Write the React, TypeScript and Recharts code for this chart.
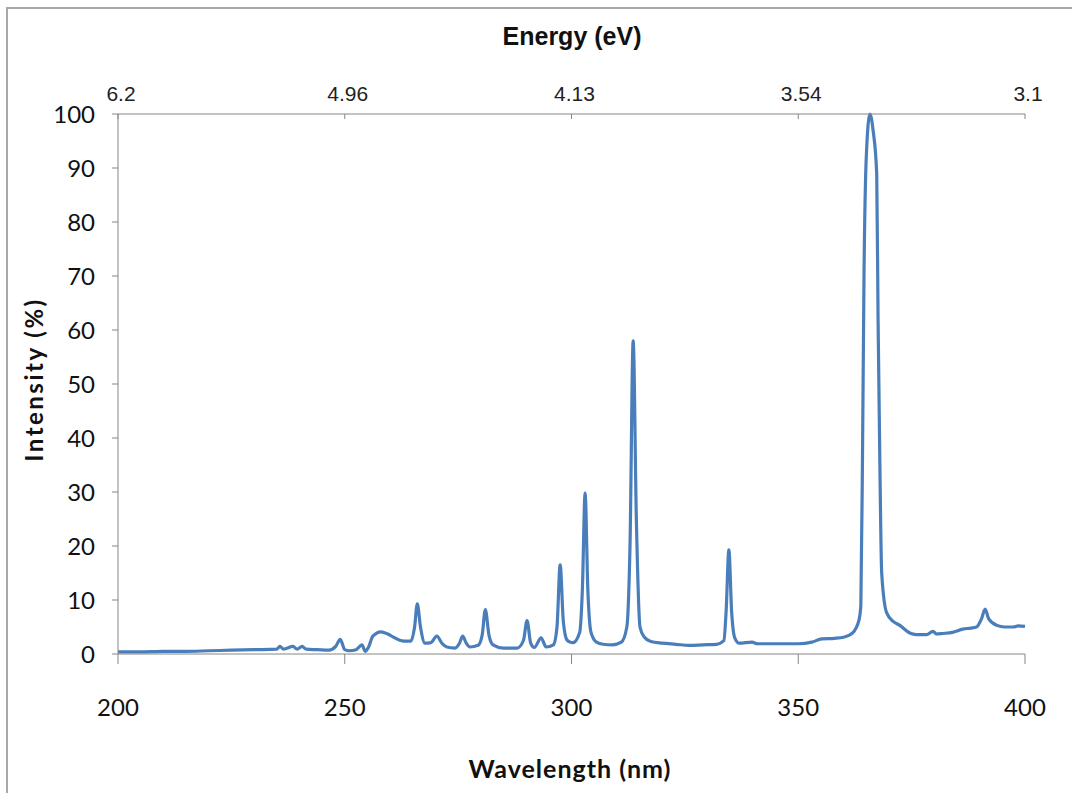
import { Line, LineChart, XAxis, YAxis } from "recharts";

// spectrum (nm, % of max)
const wavelengths = [
  200, 205, 210, 215, 220, 225, 230, 235, 235.7, 236.5, 238.6, 239.5, 240.6, 241.5, 244, 246.5,
  248, 249, 250, 251, 252.5, 253.8, 254.5, 255.2, 256.2, 258, 259.5, 261, 263, 264.6, 265.4, 266,
  266.7, 267.7, 269, 270.3, 271.5, 272.5, 274.3, 275.3, 276, 276.8, 277.6, 279.4, 280.3, 281,
  281.8, 282.7, 285, 288, 289.4, 290.2, 291, 291.8, 293.3, 294.4, 296, 296.8, 297.5, 298.2, 299,
  299.7, 300.3, 301.8, 302.4, 303, 303.6, 304.3, 305.5, 307, 309, 311, 312.2, 312.9, 313.6, 314.3,
  315.1, 316, 317.5, 320, 323, 326, 329, 332, 333.6, 334.1, 334.7, 335.3, 336, 337, 339.8, 341,
  345, 350, 353, 355.2, 358, 360, 362, 363.4, 363.8, 364.2, 364.5, 365, 365.8, 366.5, 367.3,
  367.6, 368, 368.4, 369.5, 371, 372.4, 374.6, 376, 378.3, 379.7, 380.5, 381.9, 384, 386.3, 388,
  389.3, 390.4, 391.2, 392, 393.8, 395.5, 397.4, 398.5, 400,
];
const intensity = [
  0.4, 0.4, 0.5, 0.5, 0.6, 0.7, 0.8, 0.9, 1.4, 0.9, 1.4, 0.9, 1.4, 0.9, 0.8, 0.7,
  1.4, 2.7, 0.8, 0.6, 0.8, 1.7, 0.5, 1.2, 3.3, 4.1, 3.7, 3.0, 2.4, 2.4, 5, 9.3,
  5, 2.0, 2.1, 3.3, 1.9, 1.3, 1.1, 2.0, 3.3, 2.0, 1.3, 1.6, 3.5, 8.2,
  3.5, 1.7, 1.1, 1.1, 2.5, 6.2, 2.0, 1.2, 3.0, 1.3, 1.7, 5, 16.5, 6, 2.6,
  2.2, 2.1, 4, 12, 29.8, 12, 4, 2.2, 1.8, 1.7, 2.2, 5, 20, 58, 25,
  5, 3.2, 2.3, 2.0, 1.8, 1.6, 1.7, 1.8, 2.5, 8, 19.3, 8, 3, 2.0, 2.2, 1.9,
  1.9, 1.9, 2.2, 2.8, 2.9, 3.1, 3.9, 6.3, 9, 40, 70, 92, 100, 97, 89,
  62, 35, 15, 7.6, 6, 5.3, 3.9, 3.6, 3.6, 4.2, 3.7, 3.8, 4.0, 4.6, 4.8,
  5.0, 6.5, 8.3, 6.5, 5.3, 5.0, 5.0, 5.2, 5.1,
];

const wavelengthTicks = [200, 250, 300, 350, 400];
const energyLabels = ["6.2", "4.96", "4.13", "3.54", "3.1"];
const intensityTicks = [0, 10, 20, 30, 40, 50, 60, 70, 80, 90, 100];

const data = wavelengths.map((wl, i) => ({ wl, value: intensity[i] }));

const axisColor = "#868686";
const tickFont = "Lato, 'Open Sans', sans-serif";
const narrowFont = "'Liberation Sans Narrow', 'Liberation Sans', Arial, sans-serif";

function EnergyTick(props: any) {
  const { x, y, payload } = props;
  const idx = wavelengthTicks.indexOf(payload.value);
  return (
    <g>
      <line x1={x} x2={x} y1={114} y2={119} stroke={axisColor} />
      <text x={x + 3} y={y} textAnchor="middle" fontSize={21} fontFamily={narrowFont} fill="#222">
        {energyLabels[idx]}
      </text>
    </g>
  );
}

export default function App() {
  return (
    <div style={{ position: "absolute", left: 0, top: 0, width: 1072, height: 793, overflow: "hidden", background: "#fff" }}>
      <div
        style={{
          position: "absolute",
          left: 6,
          top: 7,
          width: 1100,
          height: 820,
          borderLeft: "2px solid #a8a8a8",
          borderTop: "2px solid #a8a8a8",
        }}
      />
      <div style={{ position: "absolute", left: 0, top: 0 }}>
        <LineChart width={1072} height={793} data={data} margin={{ top: 54, right: 47, bottom: 79, left: 58 }}>
          <XAxis
            xAxisId="bottom"
            dataKey="wl"
            type="number"
            domain={[200, 400]}
            ticks={wavelengthTicks}
            height={60}
            stroke={axisColor}
            tickSize={10}
            tickMargin={35}
            tick={{ fontSize: 24, fontFamily: tickFont, fill: "#111" }}
          />
          <XAxis
            xAxisId="top"
            orientation="top"
            dataKey="wl"
            type="number"
            domain={[200, 400]}
            ticks={wavelengthTicks}
            height={60}
            stroke={axisColor}
            tickLine={false}
            tickSize={0}
            tickMargin={13}
            tick={<EnergyTick />}
          />
          <YAxis
            dataKey="value"
            domain={[0, 100]}
            ticks={intensityTicks}
            width={60}
            stroke={axisColor}
            tickSize={6}
            tickMargin={17}
            tick={{ fontSize: 24, fontFamily: tickFont, fill: "#111" }}
          />
          <Line
            xAxisId="bottom"
            type="monotone"
            dataKey="value"
            stroke="#4a7ebb"
            strokeWidth={3.2}
            dot={false}
            isAnimationActive={false}
          />
        </LineChart>
      </div>
      <div
        style={{
          position: "absolute",
          left: 422,
          top: 22,
          width: 300,
          textAlign: "center",
          fontFamily: narrowFont,
          fontWeight: "bold",
          fontSize: 25,
          color: "#111",
        }}
      >
        Energy (eV)
      </div>
      <div
        style={{
          position: "absolute",
          left: 420,
          top: 753,
          width: 300,
          textAlign: "center",
          fontFamily: tickFont,
          fontWeight: "bold",
          fontSize: 25,
          letterSpacing: 1,
          color: "#111",
        }}
      >
        Wavelength (nm)
      </div>
      <div
        style={{
          position: "absolute",
          left: 33 - 120,
          top: 380 - 15,
          width: 240,
          textAlign: "center",
          transform: "rotate(-90deg)",
          fontFamily: tickFont,
          fontWeight: "bold",
          fontSize: 24,
          letterSpacing: 2.5,
          color: "#111",
        }}
      >
        Intensity (%)
      </div>
    </div>
  );
}
